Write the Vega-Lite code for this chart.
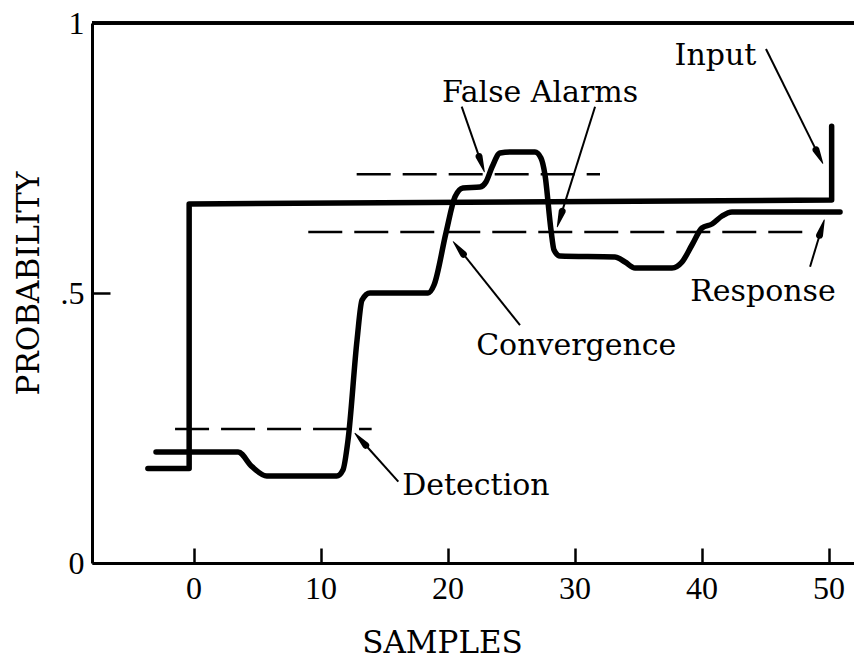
{
  "$schema": "https://vega.github.io/schema/vega-lite/v6.json",
  "width": 762,
  "height": 540,
  "autosize": {"type": "none"},
  "padding": {"left": 92, "top": 23, "right": 0, "bottom": 97},
  "background": "white",
  "config": {"view": {"stroke": null}},
  "datasets": {
    "input": [
      {"x": -3.6, "y": 0.175},
      {"x": -0.35, "y": 0.175},
      {"x": -0.35, "y": 0.665},
      {"x": 50.24, "y": 0.672},
      {"x": 50.24, "y": 0.809}
    ],
    "response": [
      {"x": -2.96, "y": 0.2056},
      {"x": 3.5, "y": 0.2056},
      {"x": 4.6, "y": 0.1783},
      {"x": 5.76, "y": 0.1611},
      {"x": 11.27, "y": 0.1611},
      {"x": 11.76, "y": 0.1722},
      {"x": 12.16, "y": 0.2278},
      {"x": 12.87, "y": 0.413},
      {"x": 13.26, "y": 0.487},
      {"x": 13.89, "y": 0.5},
      {"x": 18.46, "y": 0.5},
      {"x": 18.93, "y": 0.5148},
      {"x": 19.87, "y": 0.6111},
      {"x": 20.58, "y": 0.6778},
      {"x": 21.21, "y": 0.6944},
      {"x": 22.55, "y": 0.6963},
      {"x": 23.02, "y": 0.7056},
      {"x": 23.5, "y": 0.7333},
      {"x": 24.13, "y": 0.7593},
      {"x": 24.91, "y": 0.7611},
      {"x": 26.88, "y": 0.7611},
      {"x": 27.35, "y": 0.75},
      {"x": 27.67, "y": 0.7185},
      {"x": 28.14, "y": 0.6167},
      {"x": 28.38, "y": 0.5796},
      {"x": 28.85, "y": 0.5685},
      {"x": 33.18, "y": 0.5667},
      {"x": 33.97, "y": 0.5574},
      {"x": 34.76, "y": 0.5463},
      {"x": 37.67, "y": 0.5463},
      {"x": 38.46, "y": 0.5574},
      {"x": 39.24, "y": 0.5889},
      {"x": 40.03, "y": 0.6204},
      {"x": 40.82, "y": 0.6278},
      {"x": 41.61, "y": 0.6426},
      {"x": 42.39, "y": 0.65},
      {"x": 50.9, "y": 0.65}
    ],
    "levels": [
      {"name": "detection", "x": -1.46, "x2": 14.02, "y": 0.248},
      {"name": "false alarm", "x": 12.84, "x2": 32.0, "y": 0.72},
      {"name": "convergence", "x": 9.03, "x2": 48.0, "y": 0.613}
    ],
    "arrows": [
      {"arrow": "input", "x": 45.07, "y": 0.9519, "x2": 49.01, "y2": 0.765},
      {"arrow": "false1", "x": 21.11, "y": 0.845, "x2": 22.48, "y2": 0.7526},
      {"arrow": "false2", "x": 31.61, "y": 0.845, "x2": 29.02, "y2": 0.6511},
      {"arrow": "convergence", "x": 25.7, "y": 0.4407, "x2": 21.24, "y2": 0.5719},
      {"arrow": "detection", "x": 16.12, "y": 0.1506, "x2": 13.55, "y2": 0.2181},
      {"arrow": "response", "x": 48.54, "y": 0.5487, "x2": 49.29, "y2": 0.6069}
    ],
    "heads": [
      {"arrow": "input", "part": "base", "x": 49.01, "y": 0.765},
      {"arrow": "input", "part": "tip", "x": 49.54, "y": 0.7402},
      {"arrow": "false1", "part": "base", "x": 22.48, "y": 0.7526},
      {"arrow": "false1", "part": "tip", "x": 22.89, "y": 0.7247},
      {"arrow": "false2", "part": "base", "x": 29.02, "y": 0.6511},
      {"arrow": "false2", "part": "tip", "x": 28.64, "y": 0.6228},
      {"arrow": "convergence", "part": "base", "x": 21.24, "y": 0.5719},
      {"arrow": "convergence", "part": "tip", "x": 20.45, "y": 0.595},
      {"arrow": "detection", "part": "base", "x": 13.55, "y": 0.2181},
      {"arrow": "detection", "part": "tip", "x": 12.71, "y": 0.2402},
      {"arrow": "response", "part": "base", "x": 49.29, "y": 0.6069},
      {"arrow": "response", "part": "tip", "x": 49.66, "y": 0.6352}
    ],
    "labels": [
      {"text": "Input", "x": 41.09, "y": 0.9222},
      {"text": "False Alarms", "x": 27.28, "y": 0.854},
      {"text": "Response", "x": 44.83, "y": 0.4852},
      {"text": "Convergence", "x": 30.13, "y": 0.3852},
      {"text": "Detection", "x": 22.23, "y": 0.1259}
    ]
  },
  "layer": [
    {
      "data": {"name": "input"},
      "mark": {"type": "rule", "color": "black", "strokeWidth": 3},
      "encoding": {
        "y": {
          "datum": 1,
          "type": "quantitative",
          "scale": {"domain": [0, 1], "nice": false, "zero": false},
          "axis": {
            "orient": "left",
            "values": [0, 0.5, 1],
            "labelExpr": "datum.value == 0.5 ? '.5' : datum.value == 1 ? '1' : '0'",
            "domain": true,
            "domainColor": "black",
            "domainWidth": 3,
            "ticks": true,
            "tickColor": "black",
            "tickWidth": 2.5,
            "tickSize": -18,
            "labelPadding": 26,
            "labelFont": "Liberation Serif",
            "labelFontSize": 32,
            "labelColor": "black",
            "grid": false,
            "title": "PROBABILITY",
            "titleFont": "DejaVu Serif",
            "titleFontSize": 31,
            "titleFontWeight": "normal",
            "titleColor": "black",
            "titleX": -54,
            "titleY": 260,
            "titleAlign": "center",
            "titleBaseline": "alphabetic",
            "titleAngle": -90
          }
        }
      }
    },
    {
      "data": {"name": "levels"},
      "mark": {"type": "rule", "color": "black", "strokeWidth": 2.5, "strokeDash": [34, 12]},
      "encoding": {
        "x": {
          "field": "x",
          "type": "quantitative",
          "scale": {"domain": [-8, 52], "nice": false, "zero": false},
          "axis": {
            "orient": "bottom",
            "values": [0, 10, 20, 30, 40, 50],
            "domain": true,
            "domainColor": "black",
            "domainWidth": 3,
            "ticks": true,
            "tickColor": "black",
            "tickWidth": 2.5,
            "tickSize": -15,
            "labelPadding": 25.5,
            "labelFont": "Liberation Serif",
            "labelFontSize": 32,
            "labelColor": "black",
            "grid": false,
            "title": "SAMPLES",
            "titleFont": "DejaVu Serif",
            "titleFontSize": 31,
            "titleFontWeight": "normal",
            "titleColor": "black",
            "titleX": 350,
            "titleY": 89,
            "titleAlign": "center",
            "titleBaseline": "alphabetic"
          }
        },
        "x2": {"field": "x2"},
        "y": {"field": "y", "type": "quantitative"}
      }
    },
    {
      "data": {"name": "input"},
      "mark": {"type": "line", "color": "black", "strokeWidth": 5.5, "strokeCap": "round", "strokeJoin": "round"},
      "encoding": {
        "x": {"field": "x", "type": "quantitative"},
        "y": {"field": "y", "type": "quantitative"},
        "order": {"value": null}
      }
    },
    {
      "data": {"name": "response"},
      "mark": {"type": "line", "color": "black", "strokeWidth": 5.5, "strokeCap": "round", "strokeJoin": "round", "interpolate": "monotone"},
      "encoding": {
        "x": {"field": "x", "type": "quantitative"},
        "y": {"field": "y", "type": "quantitative"}
      }
    },
    {
      "data": {"name": "arrows"},
      "mark": {"type": "rule", "color": "black", "strokeWidth": 2},
      "encoding": {
        "x": {"field": "x", "type": "quantitative"},
        "y": {"field": "y", "type": "quantitative"},
        "x2": {"field": "x2"},
        "y2": {"field": "y2"}
      }
    },
    {
      "data": {"name": "heads"},
      "mark": {"type": "trail", "color": "black"},
      "encoding": {
        "x": {"field": "x", "type": "quantitative"},
        "y": {"field": "y", "type": "quantitative"},
        "detail": {"field": "arrow"},
        "size": {
          "field": "part",
          "type": "nominal",
          "scale": {"type": "ordinal", "domain": ["base", "tip"], "range": [7, 0]},
          "legend": null
        }
      }
    },
    {
      "data": {"name": "labels"},
      "mark": {"type": "text", "font": "DejaVu Serif", "fontSize": 30, "align": "center", "baseline": "alphabetic", "color": "black"},
      "encoding": {
        "x": {"field": "x", "type": "quantitative"},
        "y": {"field": "y", "type": "quantitative"},
        "text": {"field": "text"}
      }
    }
  ]
}
